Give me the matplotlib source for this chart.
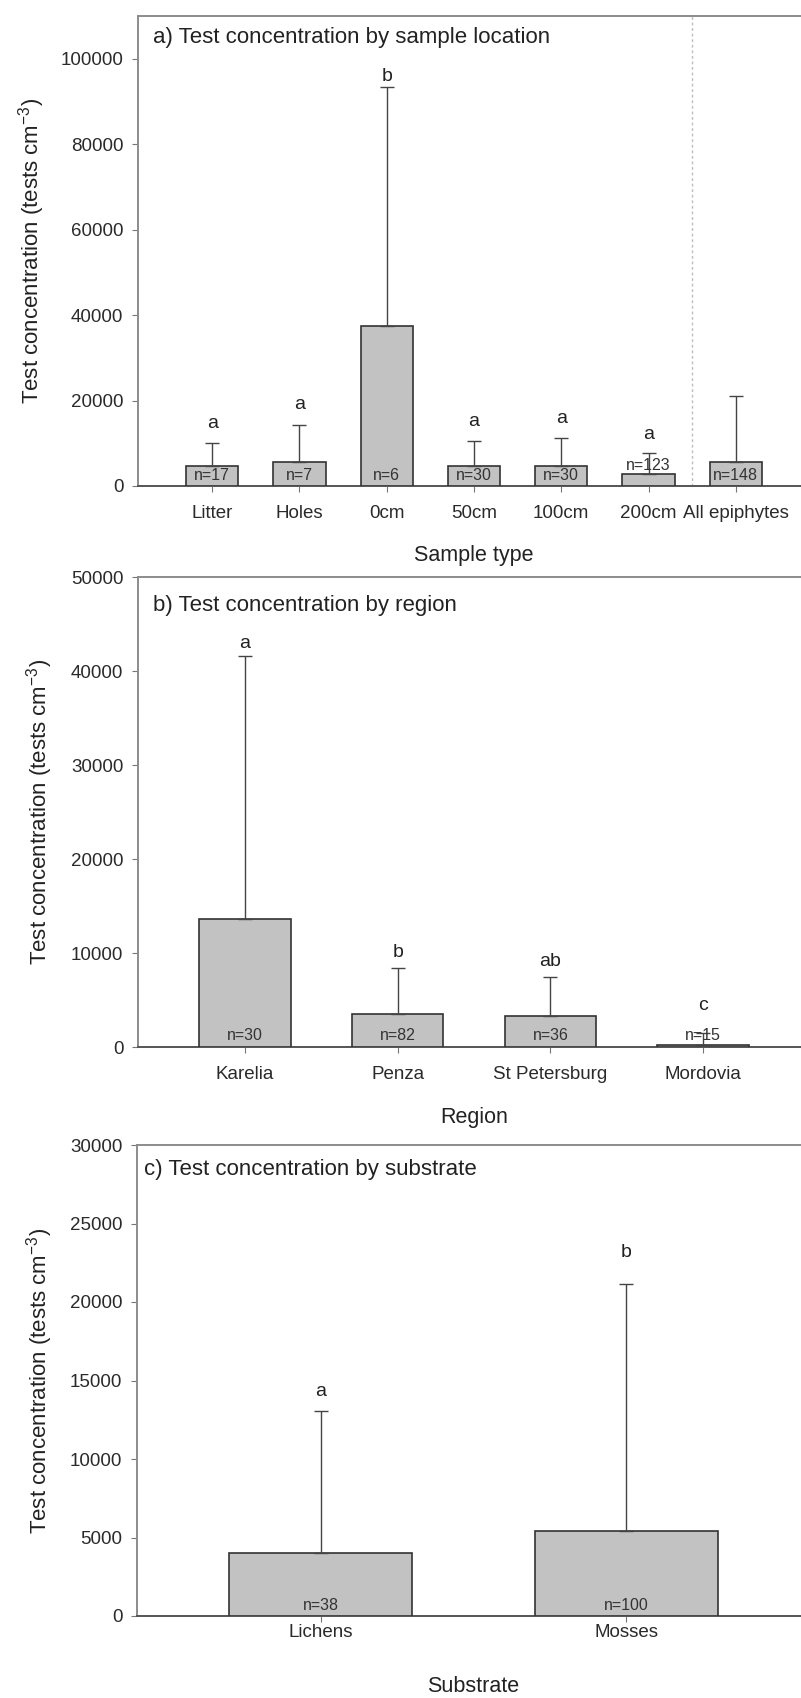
import matplotlib
matplotlib.use('Agg')
import matplotlib.pyplot as plt
import numpy as np

plt.rcParams['font.family'] = ['Liberation Sans', 'DejaVu Sans']
plt.rcParams['mathtext.default'] = 'regular'

# ---------------- data ----------------
cats_a = ['Litter', 'Holes', '0cm', '50cm', '100cm', '200cm', 'All epiphytes']
mean_a = [4600, 5700, 37500, 4600, 4600, 2700, 5700]
upper_a = [10000, 14300, 93300, 10600, 11300, 7700, 21100]   # mean + SD
n_a = [17, 7, 6, 30, 30, 123, 148]
letters_a = ['a', 'a', 'b', 'a', 'a', 'a', '']

cats_b = ['Karelia', 'Penza', 'St Petersburg', 'Mordovia']
mean_b = [13650, 3500, 3250, 200]
upper_b = [41600, 8400, 7450, 1500]
n_b = [30, 82, 36, 15]
letters_b = ['a', 'b', 'ab', 'c']

cats_c = ['Lichens', 'Mosses']
mean_c = [4000, 5400]
upper_c = [13050, 21150]
n_c = [38, 100]
letters_c = ['a', 'b']

titles = ['a) Test concentration by sample location',
          'b) Test concentration by region',
          'c) Test concentration by substrate']
xlabels = ['Sample type', 'Region', 'Substrate']
ylabel = 'Test concentration (tests cm$^{-3}$)'

# ---------------- figure ----------------
W, H = 801, 1698
fig = plt.figure(figsize=(W / 100, H / 100), dpi=100)

def rect(left, top, bottom, right=810):
    return [left / W, (H - bottom) / H, (right - left) / W, (bottom - top) / H]

BAR = '#c2c2c2'
EDGE = '#333333'
TXT = '#222222'

def panel(ax, cats, means, uppers, ns, letters, ylim, ystep, xlim,
          title, title_xy, xlabel, ylab_x, tick_pad, letter_off, n_off):
    x = np.arange(len(cats))
    means = np.asarray(means, float)
    uppers = np.asarray(uppers, float)
    ax.bar(x, means, width=0.6, color=BAR, edgecolor=EDGE, linewidth=1.2, zorder=3)
    err = uppers - means
    ax.errorbar(x, means, yerr=[np.zeros_like(err), err], fmt='none',
                ecolor='#444444', elinewidth=1.0, capsize=5, capthick=1.0, zorder=4)
    for xi, up, lt, off in zip(x, uppers, letters, letter_off):
        if lt:
            ax.annotate(lt, (xi, up), xytext=(0, off), textcoords='offset points',
                        ha='center', va='center', fontsize=14, color=TXT, zorder=5)
    for xi, n, off in zip(x, ns, n_off):
        ax.annotate(f'n={n}', (xi, 0), xytext=(0, off), textcoords='offset points',
                    ha='center', va='center', fontsize=11.5, color='#333333', zorder=5)
    ax.set_xlim(*xlim)
    ax.set_ylim(0, ylim)
    ax.set_yticks(np.arange(0, ylim + 1, ystep))
    ax.set_xticks(x)
    ax.set_xticklabels(cats)
    ax.tick_params(axis='y', direction='out', length=4, width=0.8, color='#777777',
                   pad=6.5, labelsize=13.5, labelcolor='#2a2a2a')
    ax.tick_params(axis='x', direction='out', length=4, width=0.8, color='#777777',
                   pad=tick_pad, labelsize=13.5, labelcolor='#2a2a2a')
    for s in ['top', 'left']:
        ax.spines[s].set_color('#8c8c8c')
        ax.spines[s].set_linewidth(1.4)
    ax.spines['bottom'].set_color('#555555')
    ax.spines['bottom'].set_linewidth(1.4)
    ax.spines['right'].set_visible(False)
    ax.text(title_xy[0], title_xy[1], title, transform=ax.transAxes,
            ha='left', va='center', fontsize=16, color=TXT)
    ax.set_xlabel(xlabel, fontsize=15.5, color=TXT, va='center')
    ax.xaxis.set_label_coords(0.5, -70 / 470)
    ax.set_ylabel(ylabel, fontsize=16, color=TXT, va='center')
    ax.yaxis.set_label_coords(ylab_x, 0.5)

ax_a = fig.add_axes(rect(138, 16, 486))
panel(ax_a, cats_a, mean_a, upper_a, n_a, letters_a, 110000, 20000, (-0.85, 6.85),
      titles[0], (0.022, 0.954), xlabels[0], (32 - 138) / 672, 10,
      [14.4, 14.4, 7.7, 14.1, 13.9, 13.7, 0], [7.2, 7.2, 7.2, 7.2, 7.2, 14.4, 7.2])
ax_a.axvline(5.5, color='#bdbdbd', linestyle=(0, (2, 2)), linewidth=1.0, zorder=1)

ax_b = fig.add_axes(rect(138, 577, 1047))
panel(ax_b, cats_b, mean_b, upper_b, n_b, letters_b, 50000, 10000, (-0.7, 3.7),
      titles[1], (0.022, 0.940), xlabels[1], (40 - 138) / 672, 10,
      [9.0, 11.5, 10.8, 20.0], [8, 8, 8, 8])

ax_c = fig.add_axes(rect(137, 1145, 1616))
panel(ax_c, cats_c, mean_c, upper_c, n_c, letters_c, 30000, 5000, (-0.6, 1.6),
      titles[2], (0.011, 0.947), xlabels[2], (40 - 137) / 672, 2,
      [14.4, 22.3], [7.5, 7.5])

fig.savefig('out.png', dpi=100)
